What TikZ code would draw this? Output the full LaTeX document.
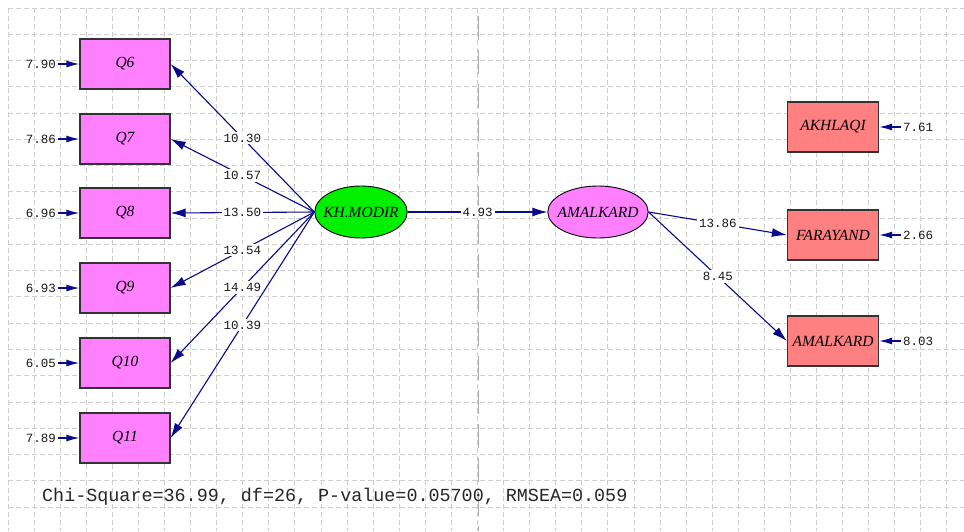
\documentclass[tikz,border=0pt]{standalone}
\usepackage{fontspec}
\setmainfont{Liberation Serif}
\newfontfamily\monof{Liberation Mono}
\usetikzlibrary{shapes.geometric,arrows.meta}
\definecolor{arrowc}{RGB}{10,10,140}
\definecolor{violetf}{RGB}{255,128,255}
\definecolor{salmonf}{RGB}{255,128,128}
\definecolor{greenf}{RGB}{0,240,0}
\definecolor{gridc}{RGB}{205,205,205}
\definecolor{breakc}{RGB}{175,175,175}
\tikzset{
  gridline/.style={draw=gridc, line width=0.8pt, dash pattern=on 4.5pt off 3.5pt},
  pagebreak/.style={draw=breakc, line width=0.9pt, dash pattern=on 24pt off 10pt},
  qbox/.style={draw=black!80, line width=1.2pt, fill=violetf, minimum width=90pt, minimum height=50pt, inner sep=0pt, font=\fontsize{15.5}{18}\selectfont\itshape},
  rbox/.style={qbox, fill=salmonf, minimum width=91pt},
  latent/.style={draw=black, line width=0.9pt, ellipse, minimum width=90pt, minimum height=52pt, inner xsep=-5pt, inner ysep=0pt, font=\fontsize{15.5}{18}\selectfont\itshape},
  numlab/.style={font=\monof\fontsize{12.5}{14}\selectfont, fill=white, inner sep=2pt, text=black!90},
  errlab/.style={font=\monof\fontsize{12.5}{14}\selectfont, inner sep=2pt, text=black!90},
  mainhead/.tip={Latex[length=15pt,width=9pt]},
  errhead/.tip={Latex[length=13pt,width=7pt]},
  patharrow/.style={draw=arrowc, line width=1.1pt, -mainhead},
  errarrow/.style={draw=arrowc, line width=1.3pt, -errhead},
  fitlab/.style={font=\monof\fontsize{18.4}{20}\selectfont, inner sep=0pt, anchor=west, text=black!85}
}
\begin{document}
\begin{tikzpicture}[x=1pt,y=-1pt]
\useasboundingbox (0,0) rectangle (964,531);
\fill[white] (0,0) rectangle (964,531);
% grid
\foreach \i in {0,...,36} \draw[gridline] ({8+\i*26.08},8) -- ({8+\i*26.08},531);
\foreach \j in {0,...,19} \draw[gridline] (8,{8+\j*26.26}) -- (964,{8+\j*26.26});
\draw[pagebreak] (478,16) -- (478,531);

% observed boxes left
\node[qbox] (q6) at (125,64) {Q6};
\node[qbox] (q7) at (125,139) {Q7};
\node[qbox] (q8) at (125,213) {Q8};
\node[qbox] (q9) at (125,288) {Q9};
\node[qbox] (q10) at (125,363) {Q10};
\node[qbox] (q11) at (125,438) {Q11};

% latent
\node[latent, fill=greenf] (km) at (361,212) {KH.MODIR};
\node[latent, fill=violetf] (am) at (598,212) {AMALKARD};

% right boxes
\node[rbox] (ak) at (833,127) {AKHLAQI};
\node[rbox] (fa) at (833,235) {FARAYAND};
\node[rbox] (ab) at (833,341) {AMALKARD};

% error labels
\node[errlab] (e6) at (41,64) {7.90};
\node[errlab] (e7) at (41,139) {7.86};
\node[errlab] (e8) at (41,213) {6.96};
\node[errlab] (e9) at (41,288) {6.93};
\node[errlab] (e10) at (41,363) {6.05};
\node[errlab] (e11) at (41,438) {7.89};
\node[errlab] (rak) at (918,127) {7.61};
\node[errlab] (rfa) at (918,235) {2.66};
\node[errlab] (rab) at (918,341) {8.03};

\foreach \e/\q in {e6/q6,e7/q7,e8/q8,e9/q9,e10/q10,e11/q11,rak/ak,rfa/fa,rab/ab}
  \draw[errarrow] (\e) -- (\q);

% loadings
\draw[patharrow] (km.west) -- node[numlab]{10.30} (q6.east);
\draw[patharrow] (km.west) -- node[numlab]{10.57} (q7.east);
\draw[patharrow] (km.west) -- node[numlab]{13.50} (q8.east);
\draw[patharrow] (km.west) -- node[numlab]{13.54} (q9.east);
\draw[patharrow] (km.west) -- node[numlab]{14.49} (q10.east);
\draw[patharrow] (km.west) -- node[numlab]{10.39} (q11.east);

\draw[patharrow] (km.east) -- node[numlab]{4.93} (am.west);
\draw[patharrow] (am.east) -- node[numlab]{13.86} (fa.west);
\draw[patharrow] (am.east) -- node[numlab]{8.45} (ab.west);

\node[fitlab] (fit) at (42,497) {Chi-Square=36.99, df=26, P-value=0.05700, RMSEA=0.059};
\end{tikzpicture}
\end{document}
